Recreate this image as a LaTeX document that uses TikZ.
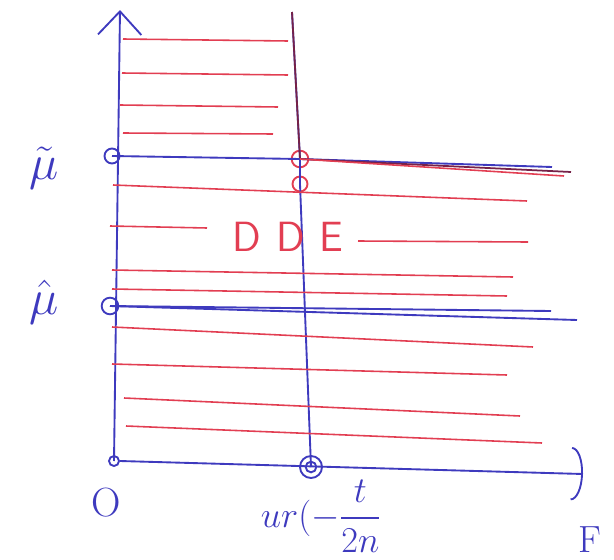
\documentclass[tikz,border=0pt]{standalone}
\usepackage{amsmath, amssymb}
\usepackage{xcolor}
\usepackage{tikz}
\usetikzlibrary{positioning, arrows.meta, calc}
\definecolor{penblue}{RGB}{62, 58, 190}
\definecolor{penred}{RGB}{226, 62, 82}
\definecolor{penmaroon}{RGB}{118, 34, 72}
\tikzset{
  axis/.style={draw=penblue, line width=1.6pt},
  guide/.style={draw=penblue, line width=1.6pt},
  guideR/.style={draw=penmaroon, line width=1.5pt},
  hatch/.style={draw=penred, line width=1.35pt},
  ring/.style={circle, draw=penblue, line width=1.6pt, inner sep=0pt,
    minimum size=#1},
  ringR/.style={circle, draw=penred, line width=1.6pt, inner sep=0pt,
    minimum size=#1},
  lbl/.style={text=penblue, font=\Huge, inner sep=0pt},
}

\begin{document}
\begin{tikzpicture}[x=0.03cm, y=-0.03cm]
\useasboundingbox (0,0) rectangle (614,560);

% Marques sur les axes
\node[ring=0.3cm] (orig) at (114,461) {};
\node[ring=0.45cm] (mut) at (112,156) {};
\node[ring=0.5cm] (muh) at (110,306) {};
\node[ring=0.66cm] (ux) at (311,467) {};
\node[ring=0.32cm] (uxin) at (311,467) {};
\node[ringR=0.5cm] (rt) at (300,159) {};
\node[ringR=0.45cm] (rb) at (300,184) {};

\coordinate (ytop) at (120,10);
\coordinate (xend) at (583,474);
\coordinate (vtop) at (292,12);
\coordinate (mutend) at (552,167);
\coordinate (mutendA) at (571,172);
\coordinate (mutendB) at (564,176);
\coordinate (muhendA) at (551,311);
\coordinate (muhendB) at (577,320);

% Axes
\draw[axis, -{Straight Barb[length=0.7cm, width=1.3cm]}] (orig.center) -- (ytop);
\draw[axis, -{Arc Barb[length=0.35cm, width=1.6cm]}] (orig.east) -- (xend);

% Droites guides
\draw[guide] (ux.center) -- (rb.center) -- (rt.center) -- (vtop);
\draw[guideR] (rt.center) -- (vtop);
\draw[guide] (mut.center) -- (rt.center) -- (mutend);
\draw[guideR] (rt.center) -- (mutendA);
\draw[hatch] (rt.center) -- (mutendB);
\draw[guide] (muh.center) -- (muhendA);
\draw[guide] (muh.center) -- (muhendB);

% Hachures rouges (xg/yg/xd/yd)
\foreach \xl/\yl/\xr/\yr [count=\i] in {
    123/39/288/41, 122/73/288/75, 120/105/278/107, 123/133/273/134,
    113/185/527/201, 112/270/513/277, 112/289/507/296,
    112/327/533/347, 112/364/507/375, 124/398/520/416, 126/426/542/443,
    110/226/207/228, 358/241/528/242}{
  \coordinate (h\i-l) at (\xl,\yl);
  \coordinate (h\i-r) at (\xr,\yr);
  \draw[hatch] (h\i-l) -- (h\i-r);
}

% Textes
\node[text=penred, font=\Huge\sffamily, scale=1.45, inner sep=0pt] (dde) at (288,237)
  {D\hspace{0.35em}D\hspace{0.35em}E};
\node[lbl, scale=1.7] (lmut) at (44,168) {$\tilde{\mu}$};
\node[lbl, scale=1.7] (lmuh) at (44,302) {$\hat{\mu}$};
\node[lbl, scale=1.4] (lO) at (106,503) {O};
\node[lbl, scale=1.25] (lux) at (321,516) {$ur(-\dfrac{t}{2n}$};
\node[lbl, scale=1.3] (lF) at (590,540) {F};

\end{tikzpicture}
\end{document}
